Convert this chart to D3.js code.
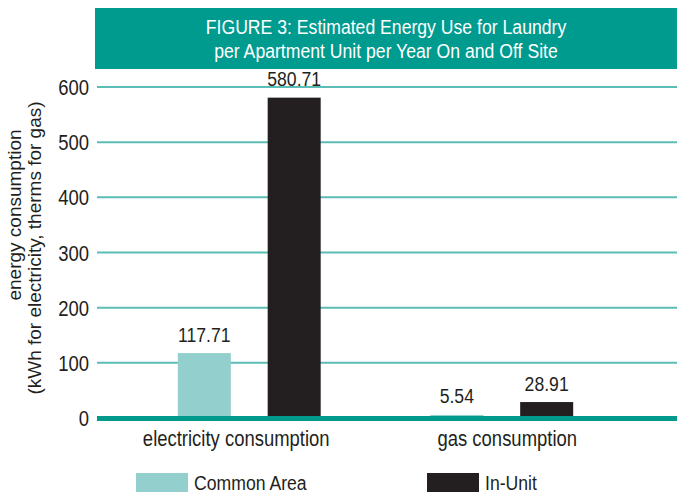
<!DOCTYPE html>
<html>
<head>
<meta charset="utf-8">
<script src="https://cdn.jsdelivr.net/npm/d3@7"></script>
<style>
  body { margin: 0; background: #fff; }
  text { font-family: "Liberation Sans", Arial, sans-serif; fill: #231f20; }
</style>
</head>
<body>
<div id="chart"></div>
<script>
var categories = ["electricity consumption", "gas consumption"];
var series = ["Common Area", "In-Unit"];
var commonArea = [117.71, 5.54];
var inUnit = [580.71, 28.91];
var yTicks = [0, 100, 200, 300, 400, 500, 600];
var titleLines = ["FIGURE 3: Estimated Energy Use for Laundry", "per Apartment Unit per Year On and Off Site"];
var yTitleLines = ["energy consumption", "(kWh for electricity, therms for gas)"];

var colors = { "Common Area": "#93cfcc", "In-Unit": "#231f20" };

var data = categories.map((c, i) => ({
	cat: c,
	values: [
		{ key: "Common Area", value: commonArea[i] },
		{ key: "In-Unit", value: inUnit[i] }
	]
}));

// the original font is a condensed sans, so squeeze Liberation Sans a bit
var squeeze = 0.84;
var at = (x, y) => "translate(" + x + "," + y + ") scale(" + squeeze + ",1)";

var svg = d3.select("#chart")
	.append("svg")
	.attr("width", 677)
	.attr("height", 501);

// title box
svg.append("rect")
	.attr("x", 95)
	.attr("y", 8)
	.attr("width", 590)
	.attr("height", 61)
	.attr("fill", "#009b8f");

svg.selectAll(".title")
	.data(titleLines)
	.enter()
	.append("text")
	.attr("class", "title")
	.attr("transform", (d, i) => at(386, 34 + i * 24))
	.style("font-size", "21px")
	.style("fill", "#fff")
	.style("text-anchor", "middle")
	.text(d => d);

var y = d3.scaleLinear()
	.domain([0, 600])
	.range([418, 87]);

var x0 = d3.scaleBand()
	.domain(categories)
	.range([123, 628])
	.padding(0);

var x1 = d3.scaleBand()
	.domain(series)
	.range([0, x0.bandwidth()])
	.paddingInner(0.41)
	.paddingOuter(0.61);

// gridlines
svg.selectAll(".grid")
	.data(yTicks.filter(d => d > 0))
	.enter()
	.append("line")
	.attr("class", "grid")
	.attr("x1", 97)
	.attr("x2", 677)
	.attr("y1", d => y(d))
	.attr("y2", d => y(d))
	.attr("stroke", "#5bbdb5")
	.attr("stroke-width", 2);

// y tick labels
svg.selectAll(".ytick")
	.data(yTicks)
	.enter()
	.append("text")
	.attr("class", "ytick")
	.attr("transform", d => at(89, y(d) + 8))
	.style("font-size", "22px")
	.style("text-anchor", "end")
	.text(d => d);

// bars
var groups = svg.selectAll(".group")
	.data(data)
	.enter()
	.append("g")
	.attr("class", "group")
	.attr("transform", d => "translate(" + x0(d.cat) + ",0)");

groups.selectAll("rect")
	.data(d => d.values)
	.enter()
	.append("rect")
	.attr("x", d => x1(d.key))
	.attr("y", d => y(d.value))
	.attr("width", x1.bandwidth())
	.attr("height", d => y(0) - y(d.value))
	.attr("fill", d => colors[d.key]);

groups.selectAll(".val")
	.data(d => d.values)
	.enter()
	.append("text")
	.attr("class", "val")
	.attr("transform", d => at(x1(d.key) + x1.bandwidth() / 2, y(d.value) - 11.5))
	.style("font-size", "21px")
	.style("text-anchor", "middle")
	.text(d => d3.format(".2f")(d.value));

// zero axis line
svg.append("line")
	.attr("x1", 97)
	.attr("x2", 677)
	.attr("y1", y(0) + 0.5)
	.attr("y2", y(0) + 0.5)
	.attr("stroke", "#00998c")
	.attr("stroke-width", 5);

// category labels
var catShift = [-13, 5.5];
svg.selectAll(".cat")
	.data(categories)
	.enter()
	.append("text")
	.attr("class", "cat")
	.attr("transform", (d, i) => at(x0(d) + x0.bandwidth() / 2 + catShift[i], 446))
	.style("font-size", "22px")
	.style("text-anchor", "middle")
	.text(d => d);

// y axis title
svg.selectAll(".ytitle")
	.data(yTitleLines)
	.enter()
	.append("text")
	.attr("class", "ytitle")
	.attr("transform", (d, i) => "translate(" + [21, 41][i] + "," + [215, 248][i] + ") rotate(-90)")
	.style("font-size", "19px")
	.style("text-anchor", "middle")
	.text(d => d);

// legend
var legend = svg.selectAll(".legend")
	.data(series)
	.enter()
	.append("g")
	.attr("class", "legend")
	.attr("transform", (d, i) => "translate(" + [136, 427][i] + ",473)");

legend.append("rect")
	.attr("width", 52)
	.attr("height", 19)
	.attr("fill", d => colors[d]);

legend.append("text")
	.attr("transform", at(58, 17))
	.style("font-size", "21px")
	.text(d => d);
</script>
</body>
</html>
